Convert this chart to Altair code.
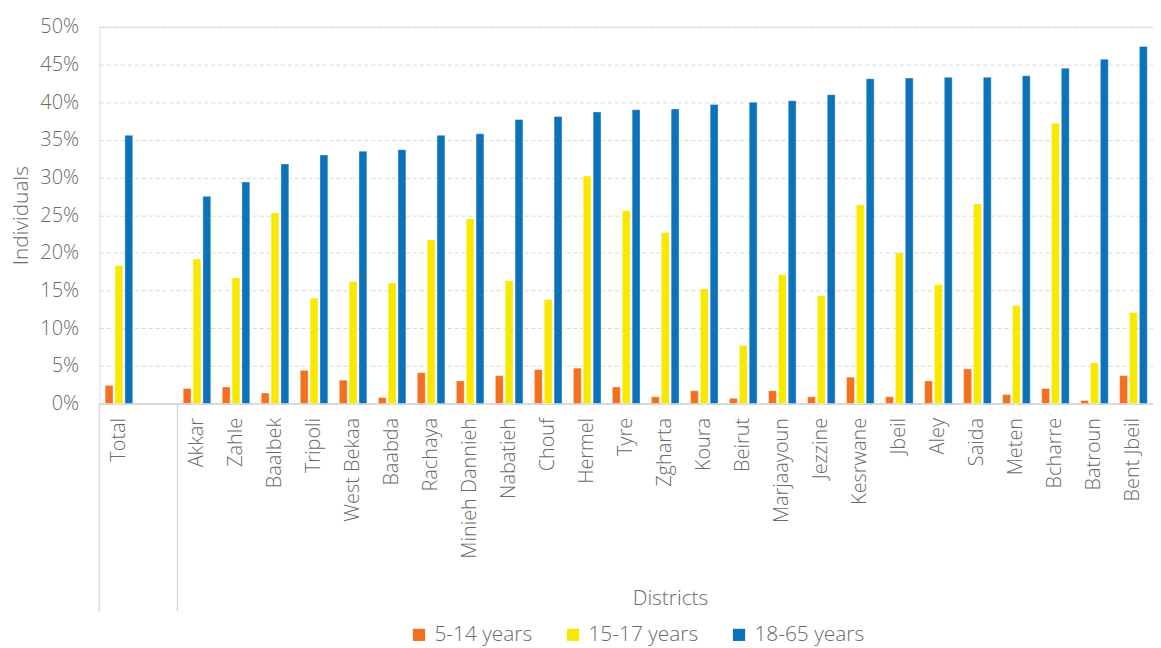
import altair as alt
import pandas as pd

districts = ["Total", " ", "Akkar", "Zahle", "Baalbek", "Tripoli", "West Bekaa", "Baabda",
             "Rachaya", "Minieh Dannieh", "Nabatieh", "Chouf", "Hermel", "Tyre", "Zgharta",
             "Koura", "Beirut", "Marjaayoun", "Jezzine", "Kesrwane", "Jbeil", "Aley", "Saida",
             "Meten", "Bcharre", "Batroun", "Bent Jbeil"]
groups = ["5-14 years", "15-17 years", "18-65 years"]
colors = ["#F37021", "#F9E900", "#0C72BA"]

# values in percent, None for the empty spacer slot
age_5_14 = [2.4, None, 2.0, 2.2, 1.4, 4.4, 3.1, 0.8, 4.1, 3.0, 3.7, 4.5, 4.7, 2.2, 0.9,
            1.7, 0.7, 1.7, 0.9, 3.5, 0.9, 3.0, 4.6, 1.2, 2.0, 0.4, 3.7]
age_15_17 = [18.3, None, 19.2, 16.7, 25.3, 14.0, 16.2, 16.0, 21.7, 24.5, 16.3, 13.8, 30.2, 25.6, 22.7,
             15.2, 7.7, 17.1, 14.3, 26.4, 20.0, 15.8, 26.5, 13.0, 37.2, 5.4, 12.1]
age_18_65 = [35.6, None, 27.5, 29.4, 31.8, 33.0, 33.5, 33.7, 35.6, 35.8, 37.7, 38.1, 38.7, 39.0, 39.1,
             39.7, 40.0, 40.2, 41.0, 43.1, 43.2, 43.3, 43.3, 43.5, 44.5, 45.7, 47.4]
separators = ["Total", "Akkar"]

rows = []
for series, name in zip([age_5_14, age_15_17, age_18_65], groups):
    for d, v in zip(districts, series):
        if v is not None:
            rows.append({"district": d, "group": name, "value": v})
df = pd.DataFrame(rows)
df_sep = pd.DataFrame({"district": separators})

FONT = "Open Sans"
TXT = "#6a6a6a"
W, H = 1060, 379

bars = alt.Chart(df).mark_bar(stroke="#ffffff", strokeWidth=0.6, strokeOpacity=0.6).encode(
    x=alt.X("district:N", sort=districts, title="Districts",
            scale=alt.Scale(domain=districts, paddingInner=0, paddingOuter=0),
            axis=alt.Axis(labelAngle=-90, labelFontSize=20, labelPadding=14,
                          labelColor=TXT, labelFont=FONT, labelFontWeight=300,
                          ticks=False, domainColor="#d9d9d9", domainWidth=2,
                          titleFontSize=21, titleFont=FONT, titleFontWeight=300, titleColor=TXT,
                          titleX=574, titleY=196, titleBaseline="middle", titleAlign="center",
                          titleAnchor="start")),
    xOffset=alt.XOffset("group:N", sort=groups,
                        scale=alt.Scale(domain=groups, paddingInner=0.2, paddingOuter=0.58)),
    y=alt.Y("value:Q", scale=alt.Scale(domain=[0, 50], nice=False), title="Individuals",
            axis=alt.Axis(values=list(range(0, 55, 5)),
                          labelExpr="datum.value + '%'", labelFontSize=20, labelPadding=21,
                          labelColor=TXT, labelFont=FONT, labelFontWeight=300,
                          ticks=False, domain=False, grid=True, gridDash=[4, 3],
                          gridColor="#d9d9d9", gridWidth=1,
                          titleFontSize=21, titleFont=FONT, titleFontWeight=300, titleColor=TXT,
                          titlePadding=8)),
    color=alt.Color("group:N", sort=groups, scale=alt.Scale(domain=groups, range=colors),
                    legend=alt.Legend(title=None, orient="none", direction="horizontal",
                                      legendX=311, legendY=601, symbolType="square",
                                      symbolSize=150, symbolStrokeWidth=0, labelFontSize=21,
                                      labelFont=FONT, labelFontWeight=300, labelColor=TXT,
                                      columnPadding=30, labelOffset=5)),
)

seps = alt.Chart(df_sep).mark_rule(color="#d9d9d9", strokeWidth=1.5).encode(
    x=alt.X("district:N", sort=districts, bandPosition=0, title="Districts"),
    y=alt.value(H),
    y2=alt.value(H + 209),
)

chart = alt.layer(bars, seps).properties(
    width=W, height=H,
    autosize=alt.AutoSizeParams(type="none"),
    padding={"left": 92, "top": 17, "right": 0, "bottom": 244},
).configure_view(stroke=None).configure(font=FONT)

chart.save("out.html", embed_options={"renderer": "svg", "actions": False})
